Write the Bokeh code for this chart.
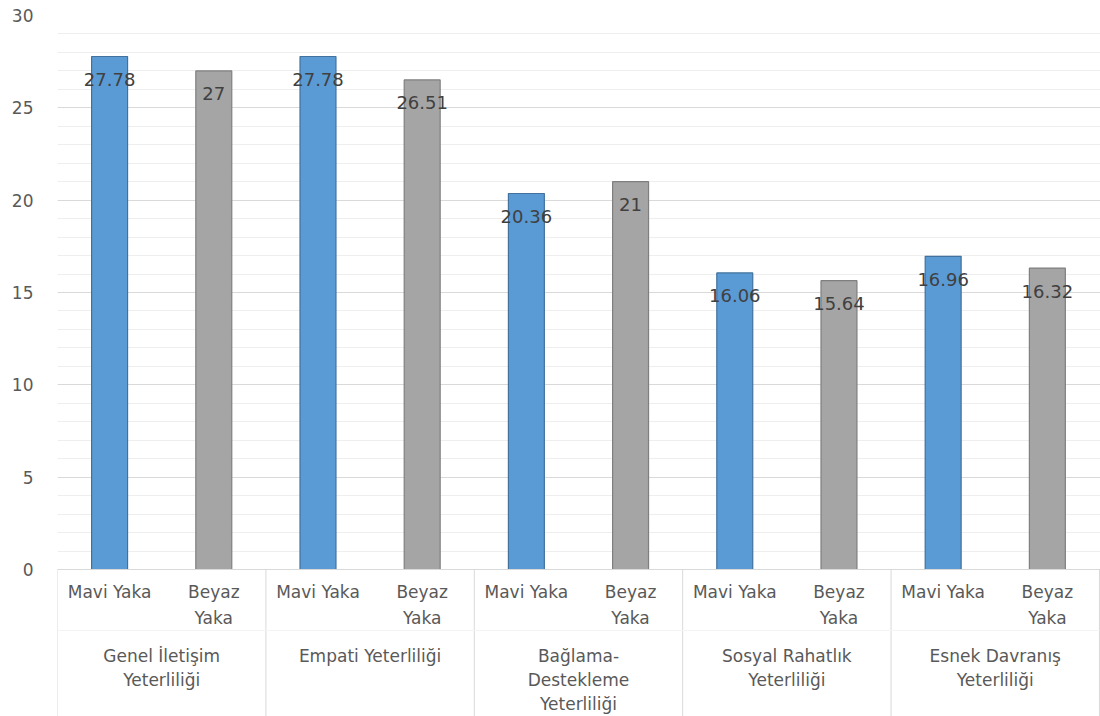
from bokeh.plotting import figure
from bokeh.models import Range1d, FixedTicker, Span, ColumnDataSource
from bokeh.core.properties import value
from bokeh.embed import file_html
from bokeh.resources import INLINE

# Data
groups = ["Genel İletişim\nYeterliliği", "Empati Yeterliliği",
          "Bağlama-\nDestekleme\nYeterliliği", "Sosyal Rahatlık\nYeterliliği",
          "Esnek Davranış\nYeterliliği"]
series_names = ["Mavi Yaka", "Beyaz\nYaka"]
mavi_yaka = [27.78, 27.78, 20.36, 16.06, 16.96]
beyaz_yaka = [27, 26.51, 21, 15.64, 16.32]
y_ticks = [0, 5, 10, 15, 20, 25, 30]

FONT = "DejaVu Sans"
TXT = "#595959"

n = len(groups)
px_per_unit = (569 - 15) / 30.0
y_bottom = -(716 - 569) / px_per_unit

p = figure(width=1100, height=716, output_backend="svg", toolbar_location=None,
           x_range=Range1d(0, 2 * n + 0.01), y_range=Range1d(y_bottom, 30),
           min_border_left=57, min_border_right=0, min_border_top=15,
           min_border_bottom=0)
p.outline_line_color = None
p.background_fill_color = "white"
p.border_fill_color = "white"
p.xaxis.visible = False
p.xgrid.visible = False

# value axis
yax = p.yaxis[0]
yax.ticker = FixedTicker(ticks=y_ticks, minor_ticks=list(range(0, 31)))
yax.axis_line_color = None
yax.major_tick_line_color = None
yax.minor_tick_line_color = None
yax.major_label_text_font = FONT
yax.major_label_text_font_size = "17px"
yax.major_label_text_color = TXT
yax.major_label_standoff = 18
p.ygrid.ticker = FixedTicker(ticks=y_ticks, minor_ticks=list(range(0, 31)))
p.ygrid.grid_line_color = "#D9D9D9"
p.ygrid.minor_grid_line_color = "#EEEEEE"

# bars
bar_w = 0.345
mavi_x = [2 * i + 0.5 for i in range(n)]
beyaz_x = [2 * i + 1.5 for i in range(n)]
p.vbar(x=mavi_x, top=mavi_yaka, bottom=0, width=bar_w,
       fill_color="#5B9BD5", line_color="#41719C", line_width=1.2)
p.vbar(x=beyaz_x, top=beyaz_yaka, bottom=0, width=bar_w,
       fill_color="#A5A5A5", line_color="#7F7F7F", line_width=1.2)

# value labels
lab = ColumnDataSource(dict(x=mavi_x + beyaz_x, y=mavi_yaka + beyaz_yaka,
                            t=[f"{v:g}" for v in mavi_yaka + beyaz_yaka]))
p.text(x="x", y="y", text="t", source=lab, text_align="center",
       text_baseline="middle", y_offset=23, text_font=value(FONT),
       text_font_size="18px", text_color="#404040")

# category axis: base line, separators, labels
p.add_layout(Span(location=0, dimension="width", line_color="#D9D9D9", line_width=1))
sep_x = [2 * i for i in range(n + 1)]
p.segment(x0=sep_x, y0=[0] * len(sep_x), x1=sep_x, y1=[y_bottom] * len(sep_x),
          line_color="#D9D9D9", line_width=1)
p.segment(x0=[0], y0=[-3.3], x1=[2 * n], y1=[-3.3], line_color="#F4F4F4", line_width=1)

sub_x = mavi_x + beyaz_x
sub_t = [series_names[0]] * n + [series_names[1]] * n
p.text(x=sub_x, y=[-0.65] * len(sub_x), text=sub_t, text_align="center",
       text_baseline="top", text_font=value(FONT), text_font_size="17px",
       text_color=TXT, text_line_height=1.3)

grp_x = [2 * i + 1 for i in range(n)]
p.text(x=grp_x, y=[-4.12] * n, text=groups, text_align="center",
       text_baseline="top", text_font=value(FONT), text_font_size="17px",
       text_color=TXT, text_line_height=1.2)

open("out.html", "w").write(file_html(p, INLINE))
